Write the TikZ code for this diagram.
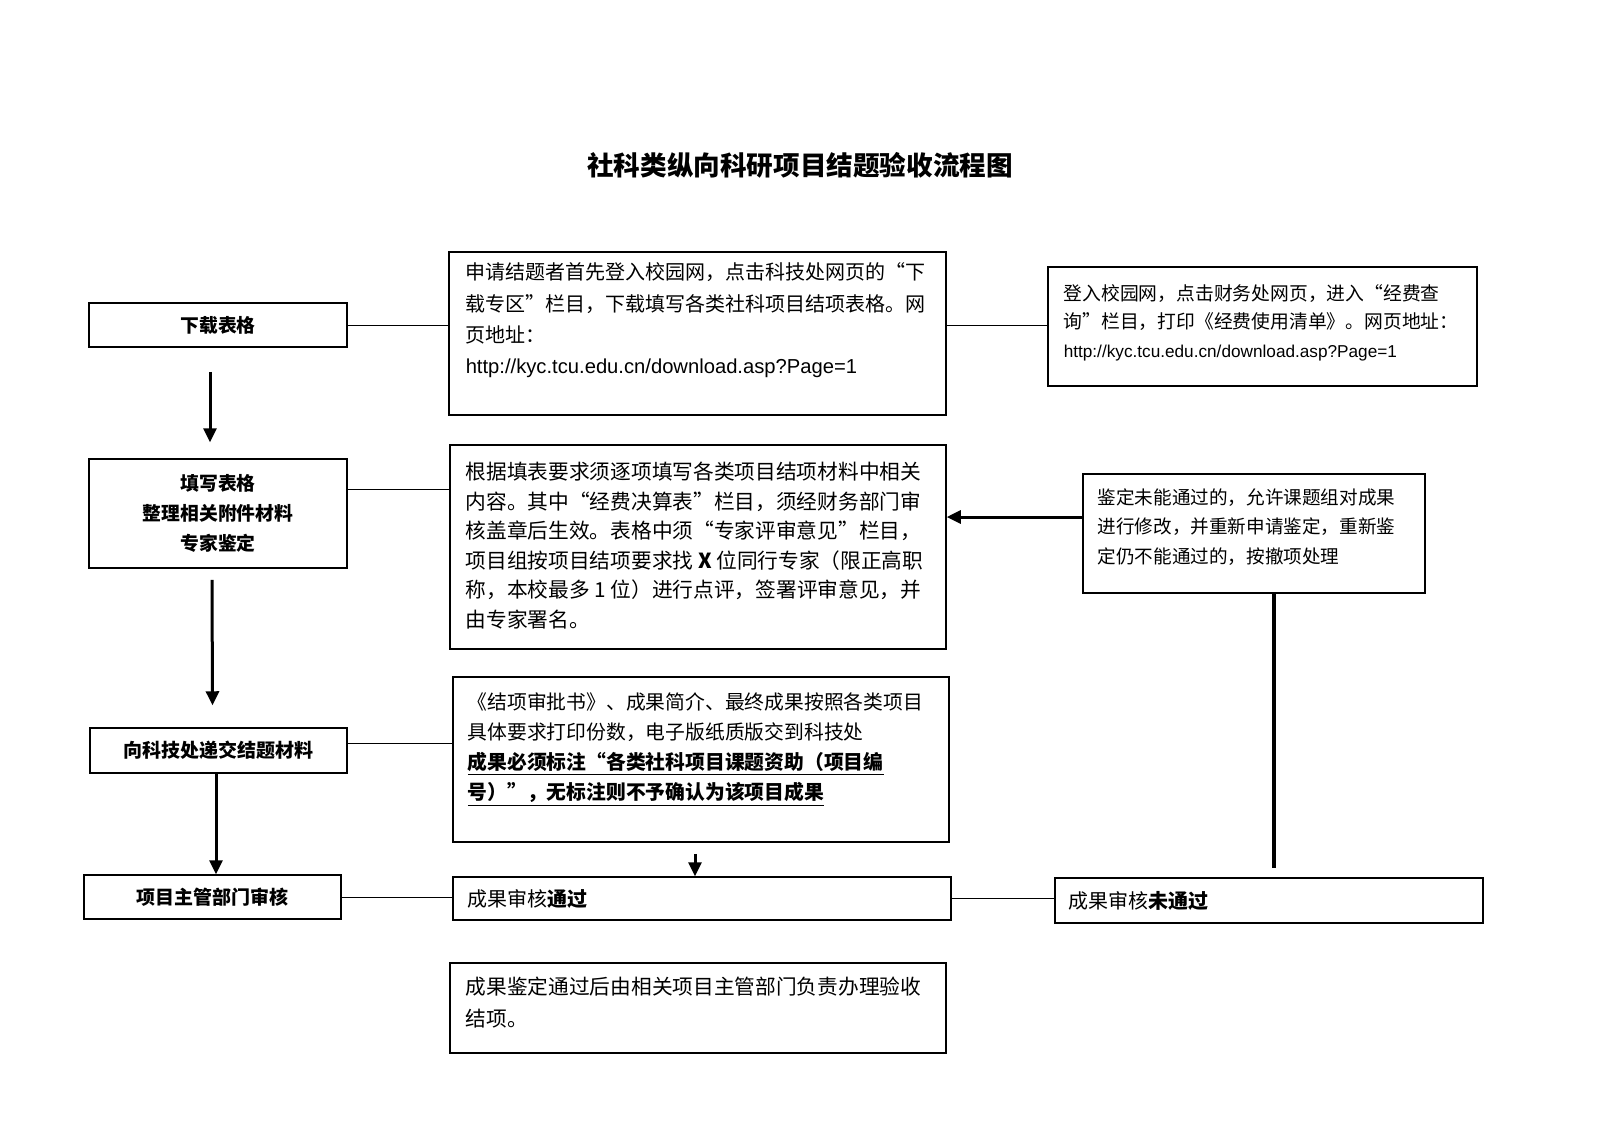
\documentclass[tikz,border=0pt]{standalone}
\usepackage{fontspec}
\setmainfont{Noto Sans CJK SC}
\newfontfamily\urlf{Liberation Sans}
\usetikzlibrary{arrows.meta,calc}
\tikzset{every picture/.style={line width=0.75pt}}

\begin{document}
\begin{tikzpicture}[x=0.5pt,y=-0.5pt,
    box/.style={draw,line width=0.75pt,inner sep=0pt},
    txt/.style={anchor=north west,inner sep=0pt,align=left},
    conn/.style={line width=0.5pt},
    arr/.style={-{Triangle[length=7pt,width=6.5pt]},line width=1.5pt}]
    % Page
    \path[fill=white,use as bounding box] (0,0) rectangle (1600,1131);

    % Title
    \node[font=\fontsize{13.3}{16}\selectfont\bfseries] (title) at (800,165) {社科类纵向科研项目结题验收流程图};

    % Left column
    \node[box,minimum width=129pt,minimum height=22pt,font=\fontsize{9.4}{15}\selectfont\bfseries] (dl) at (218,325) {下载表格};
    \node[box,minimum width=129pt,minimum height=54.5pt,align=center,font=\fontsize{9.4}{15}\selectfont\bfseries] (form) at (218,513.5) {填写表格\\整理相关附件材料\\专家鉴定};
    \node[box,minimum width=128.5pt,minimum height=22.5pt,font=\fontsize{9.5}{15}\selectfont\bfseries] (sub) at (218.5,750.5) {向科技处递交结题材料};
    \node[box,minimum width=128.5pt,minimum height=22pt,font=\fontsize{9.5}{15}\selectfont\bfseries] (chk) at (212.5,897) {项目主管部门审核};

    % Middle column
    \node[box,minimum width=248.5pt,minimum height=81.5pt] (b1) at (697.5,333.5) {};
    \node[txt,font=\fontsize{10}{15.7}\selectfont] (t1) at (465,262) {申请结题者首先登入校园网，点击科技处网页的“下\\
        载专区”栏目，下载填写各类社科项目结项表格。网\\
        页地址：\\
        {\urlf\fontsize{10.1}{15.7}\selectfont http://kyc.tcu.edu.cn/download.asp?Page=1}};
    \node[box,minimum width=248pt,minimum height=102pt] (b2) at (698,547) {};
    \node[txt,font=\fontsize{10.35}{14.75}\selectfont] (t2) at (465,461.6) {根据填表要求须逐项填写各类项目结项材料中相关\\
        内容。其中“经费决算表”栏目，须经财务部门审\\
        核盖章后生效。表格中须“专家评审意见”栏目，\\
        项目组按项目结项要求找 \textbf{X} 位同行专家（限正高职\\
        称，本校最多 1 位）进行点评，签署评审意见，并\\
        由专家署名。};
    \node[box,minimum width=248pt,minimum height=82.5pt] (b4) at (701,759.5) {};
    \node[txt,font=\fontsize{9.9}{15}\selectfont] (t4) at (467,692) {《结项审批书》、成果简介、最终成果按照各类项目\\
        具体要求打印份数，电子版纸质版交到科技处\\
        \textbf{\underline{成果必须标注“各类社科项目课题资助（项目编}}\\
        \textbf{\underline{号）”，无标注则不予确认为该项目成果}}};
    \node[box,minimum width=249pt,minimum height=21.5pt] (pass) at (702,898.5) {};
    \node[anchor=west,inner sep=0pt,font=\fontsize{10}{15}\selectfont] (tp) at (467,898.5) {成果审核\textbf{通过}};
    \node[box,minimum width=248pt,minimum height=45pt] (b5) at (698,1008) {};
    \node[txt,font=\fontsize{10.35}{15.8}\selectfont] (t5) at (465,976.6) {成果鉴定通过后由相关项目主管部门负责办理验收\\
        结项。};

    % Right column
    \node[box,minimum width=214.5pt,minimum height=59.5pt] (br) at (1262.5,326.5) {};
    \node[txt,font=\fontsize{9.4}{14.25}\selectfont] (tr) at (1063,283.6) {登入校园网，点击财务处网页，进入“经费查\\
        询”栏目，打印《经费使用清单》。网页地址：\\
        {\urlf\fontsize{8.6}{14.25}\selectfont http://kyc.tcu.edu.cn/download.asp?Page=1}};
    \node[box,minimum width=171pt,minimum height=59.5pt] (b3) at (1254,533.5) {};
    \node[txt,font=\fontsize{9.3}{14.8}\selectfont] (t3) at (1097,487.7) {鉴定未能通过的，允许课题组对成果\\
        进行修改，并重新申请鉴定，重新鉴\\
        定仍不能通过的，按撤项处理};
    \node[box,minimum width=214pt,minimum height=22.5pt] (fail) at (1269,900.5) {};
    \node[anchor=west,inner sep=0pt,font=\fontsize{10}{15}\selectfont] (tf) at (1068,900.5) {成果审核\textbf{未通过}};

    % Thin links
    \draw[conn] (dl.east) -- (dl.east -| b1.west);
    \draw[conn] (dl.east -| b1.east) -- (dl.east -| br.west);
    \draw[conn] ([yshift=12.25pt]form.east) -- ([yshift=12.25pt]form.east -| b2.west);
    \draw[conn] ([yshift=3.75pt]sub.east) -- ([yshift=3.75pt]sub.east -| b4.west);
    \draw[conn] (chk.east) -- (chk.east -| pass.west);
    \draw[conn] (pass.east) -- (pass.east -| fail.west);

    % Arrows
    \draw[arr] ([xshift=-4pt,yshift=-12pt]dl.south) -- ([xshift=-4pt,yshift=8pt]form.north);
    \draw[arr] ([xshift=-3pt,yshift=-5.5pt]form.south) -- ([xshift=-3pt,yshift=11pt]sub.north);
    \draw[arr] ([xshift=-1.25pt]sub.south) -- ([xshift=-1.25pt]sub.south |- chk.north);
    \draw[arr] ([xshift=-3pt,yshift=-5.5pt]b4.south) -- ([xshift=-3pt]b4.south |- pass.north);
    \draw[arr] ([yshift=8.25pt]b3.west) -- ([yshift=8.25pt]b3.west -| b2.east);
    \draw[line width=1.8pt,shorten >=4.5pt] ([xshift=10pt]b3.south) -- ([xshift=10pt]b3.south |- fail.north);
\end{tikzpicture}
\end{document}
